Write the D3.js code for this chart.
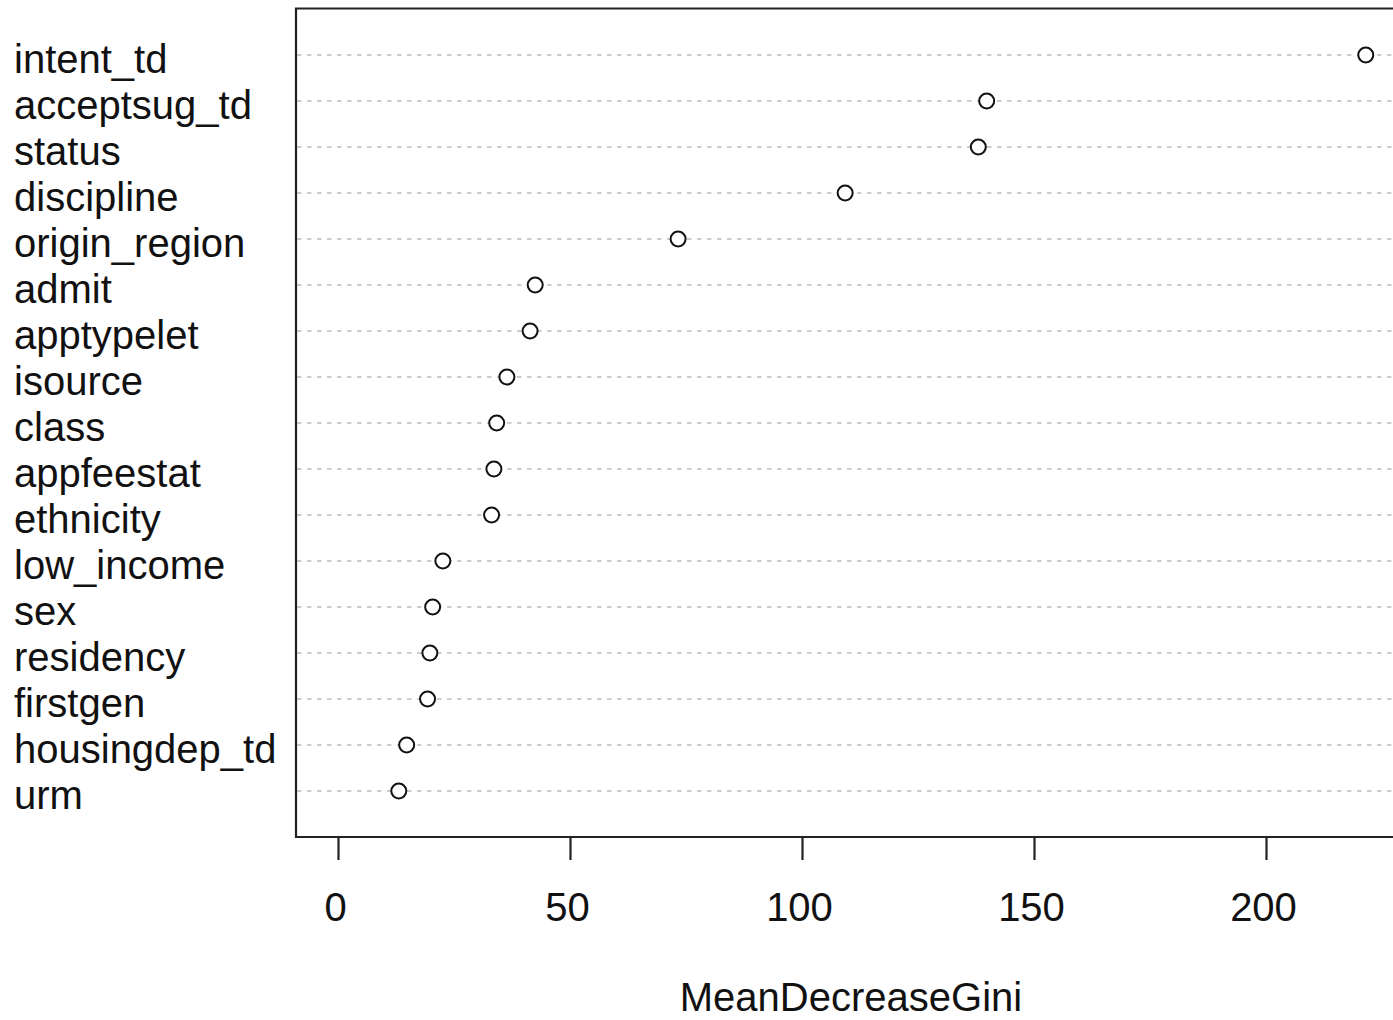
<!DOCTYPE html>
<html>
<head>
<meta charset="utf-8">
<script src="https://cdnjs.cloudflare.com/ajax/libs/d3/7.8.5/d3.min.js"></script>
<style>
  html, body { margin: 0; padding: 0; background: #fff; }
  svg { display: block; }
  text { font-family: "Liberation Sans", Arial, sans-serif; }
</style>
</head>
<body>
<div id="chart"></div>
<script>
// Variable importance dot chart (MeanDecreaseGini)

const variables = [
    'intent_td', 'acceptsug_td', 'status', 'discipline', 'origin_region',
    'admit', 'apptypelet', 'isource', 'class', 'appfeestat', 'ethnicity',
    'low_income', 'sex', 'residency', 'firstgen', 'housingdep_td', 'urm'
];

const giniValues = [
    221.5, 139.8, 138.0, 109.3, 73.3,
    42.5, 41.4, 36.4, 34.2, 33.6, 33.1,
    22.6, 20.4, 19.8, 19.3, 14.8, 13.1
];

const xTicks = [0, 50, 100, 150, 200];
const xTitle = 'MeanDecreaseGini';

const width = 1393, height = 1020;

const svg = d3.select('#chart').append('svg')
    .attr('width', width)
    .attr('height', height);

svg.append('rect')
    .attr('width', width)
    .attr('height', height)
    .attr('fill', '#fff');

// plot region (right edge runs off the picture)
const box = { left: 296, top: 8.5, right: 1400, bottom: 837 };

const x = d3.scaleLinear()
    .domain([0, 200])
    .range([338, 1266]);

const y = d3.scalePoint()
    .domain(variables)
    .range([55, 791]);

const rows = variables.map((v, i) => ({ name: v, value: giniValues[i] }));

// dotted guide lines
svg.append('g')
    .selectAll('line')
    .data(rows)
    .enter().append('line')
    .attr('x1', box.left + 1)
    .attr('x2', width)
    .attr('y1', d => y(d.name))
    .attr('y2', d => y(d.name))
    .attr('stroke', '#bdbdbd')
    .attr('stroke-width', 1.5)
    .attr('stroke-dasharray', '4.5,5.5');

// points
svg.append('g')
    .selectAll('circle')
    .data(rows)
    .enter().append('circle')
    .attr('cx', d => x(d.value))
    .attr('cy', d => y(d.name))
    .attr('r', 7.5)
    .attr('fill', '#fff')
    .attr('stroke', '#111')
    .attr('stroke-width', 2);

// row labels
svg.append('g')
    .selectAll('text')
    .data(rows)
    .enter().append('text')
    .attr('x', 14)
    .attr('y', d => y(d.name) + 18)
    .attr('font-size', '40px')
    .attr('fill', '#111')
    .text(d => d.name);

// box
svg.append('path')
    .attr('d', `M${box.right},${box.top}H${box.left}V${box.bottom}H${box.right}`)
    .attr('fill', 'none')
    .attr('stroke', '#222')
    .attr('stroke-width', 2.2);

// x axis
const xAxis = d3.axisBottom(x)
    .tickValues(xTicks)
    .tickSize(23)
    .tickPadding(33)
    .tickFormat(d3.format('d'));

const axisG = svg.append('g')
    .attr('transform', `translate(0,${box.bottom})`)
    .call(xAxis);

axisG.select('.domain').remove();
axisG.selectAll('.tick line')
    .attr('stroke', '#222')
    .attr('stroke-width', 2.2);
axisG.selectAll('.tick text')
    .attr('dx', -3)
    .attr('font-size', '40px')
    .attr('fill', '#111')
    .attr('font-family', '"Liberation Sans", Arial, sans-serif');

svg.append('text')
    .attr('x', 851)
    .attr('y', 1011)
    .attr('text-anchor', 'middle')
    .attr('font-size', '40px')
    .attr('fill', '#111')
    .text(xTitle);
</script>
</body>
</html>
